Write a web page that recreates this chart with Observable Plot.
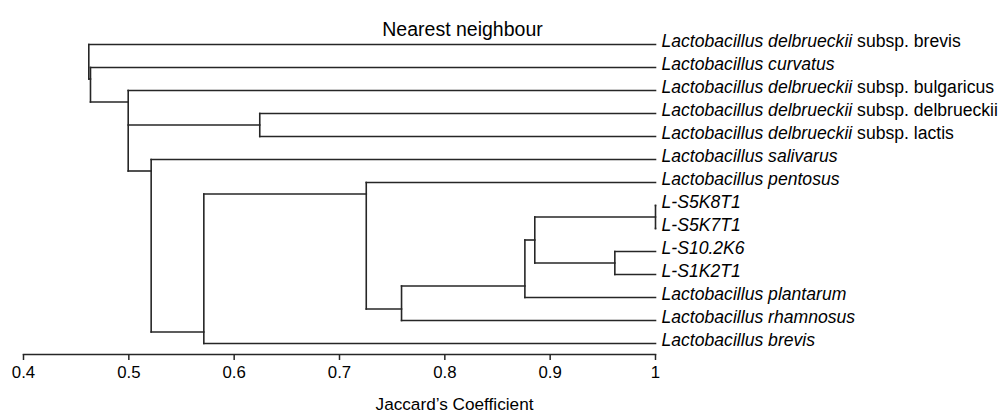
<!DOCTYPE html>
<html>
<head>
<meta charset="utf-8">
<script src="https://cdn.jsdelivr.net/npm/d3@7"></script>
<script src="https://cdn.jsdelivr.net/npm/@observablehq/plot@0.6"></script>
<style>
  html, body { margin: 0; padding: 0; background: #fff; }
  svg { font-family: "Liberation Sans", Arial, Helvetica, sans-serif; }
</style>
</head>
<body>
<div id="chart"></div>
<script>
// Leaves, top to bottom (italic part + upright suffix)
const leafGenus = [
  "Lactobacillus delbrueckii",
  "Lactobacillus curvatus",
  "Lactobacillus delbrueckii",
  "Lactobacillus delbrueckii",
  "Lactobacillus delbrueckii",
  "Lactobacillus salivarus",
  "Lactobacillus pentosus",
  "L-S5K8T1",
  "L-S5K7T1",
  "L-S10.2K6",
  "L-S1K2T1",
  "Lactobacillus plantarum",
  "Lactobacillus rhamnosus",
  "Lactobacillus brevis"
];
const leafSuffix = [
  "subsp. brevis", "", "subsp. bulgaricus", "subsp. delbrueckii", "subsp. lactis",
  "", "", "", "", "", "", "", "", ""
];
const leafSimilarity = 1; // each OTU is identical to itself

// Internal nodes of the nearest-neighbour tree (Jaccard similarity at merge)
const nodeIds      = ["root", "A", "B", "D", "C", "E", "F", "G", "H", "I", "J", "K"];
const nodeHeights  = [0.462, 0.4636, 0.4994, 0.6243, 0.5212, 0.5712, 0.7254, 0.7589, 0.876, 0.8854, 1.0, 0.9614];
const nodeChildren = [
  [0, "A"],
  [1, "B"],
  [2, "D", "C"],
  [3, 4],
  [5, "E"],
  ["F", 13],
  [6, "G"],
  ["H", 12],
  ["I", 11],
  ["J", "K"],
  [7, 8],
  [9, 10]
];

// Axis
const tickValues = [0.4, 0.5, 0.6, 0.7, 0.8, 0.9, 1];
const titleText = "Nearest neighbour";
const xLabelText = "Jaccard\u2019s Coefficient";

// ---- build the tree segments ----
const idx = id => nodeIds.indexOf(id);
const kids = id => nodeChildren[idx(id)];
function lastLeaf(c) { return typeof c === "number" ? c : lastLeaf(kids(c)[kids(c).length - 1]); }
function yOf(c) { return typeof c === "number" ? c : lastLeaf(kids(c)[0]) + 0.5; }
function hOf(c) { return typeof c === "number" ? leafSimilarity : nodeHeights[idx(c)]; }

const segments = [];
nodeIds.forEach((id, k) => {
  const h = nodeHeights[k];
  const ch = nodeChildren[k];
  const ys = ch.map(yOf);
  segments.push({x1: h, x2: h, y1: ys[0], y2: ys[ys.length - 1]});
  ch.forEach(c => segments.push({x1: h, x2: hOf(c), y1: yOf(c), y2: yOf(c)}));
});

const leaves = leafGenus.map((g, i) => ({
  i, x: leafSimilarity, label: leafSuffix[i] ? g + " " + leafSuffix[i] : g
}));

const ink = "#262626";

const plot = Plot.plot({
  width: 1001,
  height: 416,
  marginLeft: 23,
  marginRight: 346,
  marginTop: 44,
  marginBottom: 62,
  insetBottom: 11,
  style: {fontFamily: "'Liberation Sans', Arial, Helvetica, sans-serif", color: "#000", background: "#fff"},
  x: {domain: [0.4, 1]},
  y: {domain: [0, leafGenus.length - 1], reverse: true, axis: null},
  marks: [
    Plot.frame({anchor: "bottom", stroke: ink, strokeWidth: 1.5}),
    Plot.axisX(tickValues, {tickSize: 6, tickPadding: 6, tickFormat: d => String(d), fontSize: 16.8, label: null, stroke: ink, strokeWidth: 1.5}),
    Plot.link(segments, {x1: "x1", y1: "y1", x2: "x2", y2: "y2", stroke: ink, strokeWidth: 1.6, strokeLinecap: "square"}),
    Plot.text(leaves, {x: "x", y: "i", text: "label", textAnchor: "start", dx: 6, dy: -3.5, fontSize: 17.6, fontStyle: "italic", fill: "#000"}),
    Plot.text([titleText], {frameAnchor: "top", text: d => d, dx: 123, dy: -22, fontSize: 19.5, fill: "#000"}),
    Plot.text([xLabelText], {frameAnchor: "bottom", text: d => d, dx: 115, dy: 55, fontSize: 17.2, fill: "#000"})
  ]
});

// upright "subsp. ..." suffix inside italic labels
const ns = "http://www.w3.org/2000/svg";
plot.querySelectorAll("text").forEach(t => {
  const i = leaves.findIndex(d => d.label === t.textContent && leafSuffix[d.i]);
  if (i >= 0) {
    t.textContent = "";
    const a = document.createElementNS(ns, "tspan");
    a.textContent = leafGenus[i];
    const b = document.createElementNS(ns, "tspan");
    b.setAttribute("font-style", "normal");
    b.textContent = " " + leafSuffix[i];
    t.append(a, b);
  }
});

document.getElementById("chart").append(plot);
</script>
</body>
</html>
